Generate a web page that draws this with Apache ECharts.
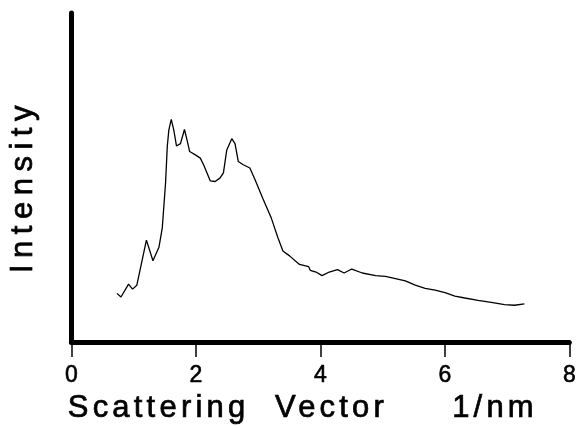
<!DOCTYPE html>
<html>
<head>
<meta charset="utf-8">
<script src="https://cdn.jsdelivr.net/npm/echarts@6/dist/echarts.min.js"></script>
<style>
html,body{margin:0;padding:0;background:#fff;}
#chart{width:579px;height:429px;}
</style>
</head>
<body>
<div id="chart"></div>
<script>
// Scattering vector q (1/nm)
var qValues = [0.733,0.797,0.919,0.983,1.052,1.206,1.311,1.407,1.461,1.514,1.541,1.566,1.605,1.646,1.689,1.753,1.817,1.860,1.901,1.992,2.072,2.124,2.188,2.231,2.311,2.390,2.443,2.497,2.577,2.629,2.682,2.762,2.868,2.948,3.080,3.214,3.319,3.399,3.506,3.665,3.813,3.838,3.931,4.027,4.143,4.276,4.382,4.505,4.674,4.888,5.047,5.206,5.366,5.525,5.684,5.844,6.003,6.162,6.322,6.534,6.746,6.959,7.119,7.278];
// Intensity (arbitrary units)
var intensityValues = [14.8,13.7,17.6,16.1,17.3,31.0,24.7,28.8,34.7,48.5,59.4,64.4,67.7,64.4,59.6,60.3,64.6,61.3,57.9,56.9,55.9,53.9,51.0,49.0,48.8,49.9,51.4,58.4,61.8,60.3,54.9,53.9,52.9,49.5,43.5,37.6,31.7,27.7,26.2,23.6,22.9,21.8,21.3,20.2,21.3,22.0,21.0,22.2,21.0,20.2,20.0,19.3,18.6,17.3,16.3,15.8,15.0,14.0,13.4,12.7,12.1,11.4,11.2,11.6];
var xTickLabels = ['0','2','4','6','8'];
var xAxisTitle = 'Scattering  Vector     1/nm';
var yAxisTitle = 'Intensity';

// letter tracking of the scanned titles
var tracking = {};
tracking[xAxisTitle] = '4.2px';
tracking[yAxisTitle] = '6.5px';
function withTracking(orig){
  return function(t, x, y, w){
    var has = ('letterSpacing' in this);
    var prev = has ? this.letterSpacing : null;
    if (has) { this.letterSpacing = tracking[t] || '0px'; }
    if (w === undefined) { orig.call(this, t, x, y); } else { orig.call(this, t, x, y, w); }
    if (has) { this.letterSpacing = prev; }
  };
}
CanvasRenderingContext2D.prototype.fillText = withTracking(CanvasRenderingContext2D.prototype.fillText);
CanvasRenderingContext2D.prototype.strokeText = withTracking(CanvasRenderingContext2D.prototype.strokeText);

var seriesData = qValues.map(function(q, i){ return [q, intensityValues[i]]; });
var font = 'Liberation Sans, Arial, Helvetica, sans-serif';

var chart = echarts.init(document.getElementById('chart'), null, {renderer:'canvas'});
chart.setOption({
  animation: false,
  backgroundColor: '#ffffff',
  grid: {left: 70, right: 7, top: 13, bottom: 79, containLabel: false},
  xAxis: {
    type: 'value', min: 0, max: 8, interval: 2,
    name: xAxisTitle, nameLocation: 'middle', nameGap: 47,
    nameTextStyle: {fontFamily: font, fontSize: 31, color: '#000', padding:[0,35,0,0],
      textBorderColor: '#000', textBorderWidth: 0.7},
    axisLine: {show: true, onZero: false, lineStyle: {color: '#000', width: 5}},
    axisTick: {show: true, inside: false, length: 15, lineStyle: {color: '#000', width: 1.5}},
    axisLabel: {show: true, margin: 22, color: '#000', fontFamily: font, fontSize: 23,
      textBorderColor: '#000', textBorderWidth: 0.6,
      formatter: function(v){ return xTickLabels[Math.round(v/2)]; }},
    splitLine: {show: false}
  },
  yAxis: {
    type: 'value', min: 0, max: 100,
    name: yAxisTitle, nameLocation: 'middle', nameGap: 32,
    nameTextStyle: {fontFamily: font, fontSize: 31, color: '#000', padding:[0,17,0,0],
      textBorderColor: '#000', textBorderWidth: 0.7},
    axisLine: {show: true, onZero: false, lineStyle: {color: '#000', width: 5}},
    axisTick: {show: false},
    axisLabel: {show: false},
    splitLine: {show: false}
  },
  series: [{
    type: 'line', data: seriesData, showSymbol: false, symbol: 'none',
    lineStyle: {color: '#000', width: 1.3}, smooth: false
  }]
});
</script>
</body>
</html>
